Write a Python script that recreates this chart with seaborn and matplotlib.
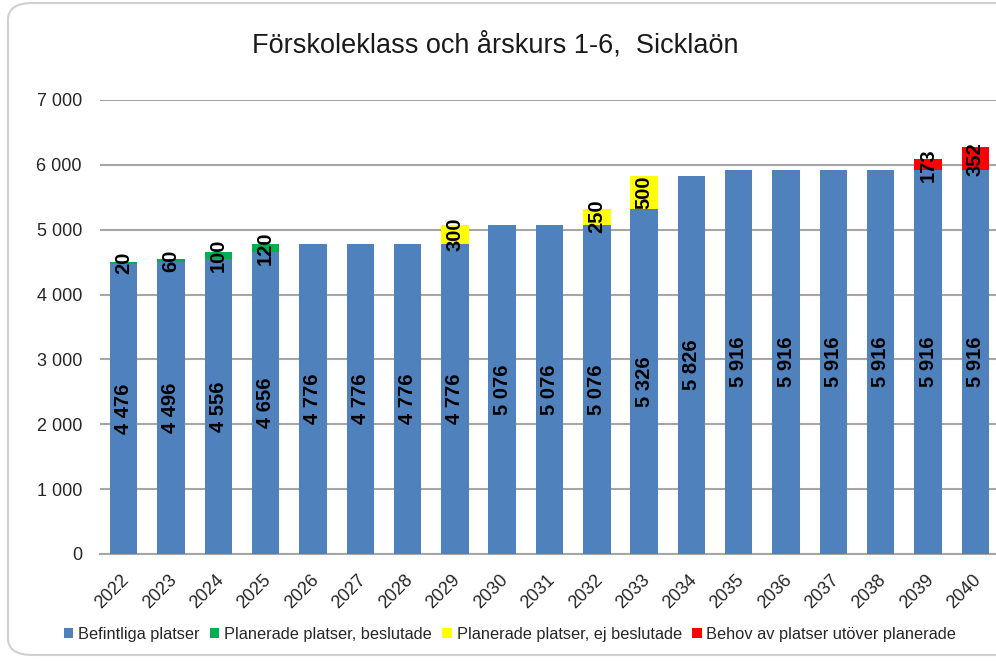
import matplotlib
matplotlib.use("Agg")
import matplotlib.pyplot as plt
import matplotlib.transforms as mtransforms
import seaborn as sns
import numpy as np
import pandas as pd
from matplotlib.patches import FancyBboxPatch, Patch
from matplotlib.ticker import FuncFormatter, MultipleLocator

years = [str(y) for y in range(2022, 2041)]
befintliga = [4476, 4496, 4556, 4656, 4776, 4776, 4776, 4776, 5076, 5076,
              5076, 5326, 5826, 5916, 5916, 5916, 5916, 5916, 5916]
beslutade = [20, 60, 100, 120, 0, 0, 0, 0, 0, 0,
             0, 0, 0, 0, 0, 0, 0, 0, 0]
ej_beslutade = [0, 0, 0, 0, 0, 0, 0, 300, 0, 0,
                250, 500, 0, 0, 0, 0, 0, 0, 0]
behov = [0, 0, 0, 0, 0, 0, 0, 0, 0, 0,
         0, 0, 0, 0, 0, 0, 0, 173, 352]

series_names = ["Befintliga platser", "Planerade platser, beslutade",
                "Planerade platser, ej beslutade", "Behov av platser utöver planerade"]
colors = ["#4F81BD", "#00B050", "#FFFF00", "#FF0000"]
title = "Förskoleklass och årskurs 1-6,  Sicklaön"

sns.set_theme(style="white")
plt.rcParams['font.family'] = ['Liberation Sans', 'DejaVu Sans']

df = pd.DataFrame({"year": years, "b": befintliga, "g": beslutade,
                   "y": ej_beslutade, "r": behov})
df["c1"] = df["b"]
df["c2"] = df["c1"] + df["g"]
df["c3"] = df["c2"] + df["y"]
df["c4"] = df["c3"] + df["r"]

fig = plt.figure(figsize=(9.96, 6.61), dpi=100)
border = FancyBboxPatch((8 / 996, 6 / 661), 1.2, 652 / 661,
                        boxstyle="round,pad=0,rounding_size=0.025",
                        transform=fig.transFigure, ec="#D0D0D0", fc="white",
                        lw=1.5, zorder=-10)
fig.patches.append(border)

ax = fig.add_axes([100 / 996, 1 - 554 / 661, 899 / 996, 454 / 661])
ax.set_facecolor("none")

W = 0.58
for col, c in zip(["c4", "c3", "c2", "c1"], colors[::-1]):
    sns.barplot(data=df, x="year", y=col, color=c, saturation=1, width=W,
                ax=ax, zorder=3, linewidth=0)

ax.set_ylim(0, 7000)
ax.set_xlim(-0.5, len(years) - 0.5)
ax.yaxis.set_major_locator(MultipleLocator(1000))
ax.yaxis.set_major_formatter(FuncFormatter(lambda v, p: f"{int(v):,}".replace(",", " ")))
ax.grid(axis="y", color="#A6A6A6", lw=1.5, zorder=0)
for s in ["top", "right", "left"]:
    ax.spines[s].set_visible(False)
ax.spines["bottom"].set_color("#A6A6A6")
ax.spines["bottom"].set_linewidth(1.5)
ax.set_xlabel("")
ax.set_ylabel("")
ax.tick_params(axis="y", length=0, pad=13, labelsize=13, labelcolor="#262626")
ax.tick_params(axis="x", length=0, pad=17, labelsize=13, labelcolor="#262626")
offset = mtransforms.ScaledTranslation(3 / 100, 0, fig.dpi_scale_trans)
for lab in ax.get_xticklabels():
    lab.set_rotation(45)
    lab.set_ha("right")
    lab.set_va("center")
    lab.set_rotation_mode("anchor")
    lab.set_transform(lab.get_transform() + offset)

def fmt(v):
    return f"{int(v):,}".replace(",", " ")

for i in range(len(years)):
    segs = [(0, befintliga[i]), (df["c1"][i], beslutade[i]),
            (df["c2"][i], ej_beslutade[i]), (df["c3"][i], behov[i])]
    for base, val in segs:
        if val > 0:
            ax.text(i, base + val / 2, fmt(val), rotation=90, ha="center",
                    va="center", fontsize=14.5, fontweight="bold",
                    color="black", zorder=5)

fig.text(0.4975, 1 - 45 / 661, title, ha="center", va="center",
         fontsize=19.5, color="#1a1a1a")

handles = [Patch(facecolor=c, edgecolor="none") for c in colors]
fig.legend(handles, series_names, loc="center", bbox_to_anchor=(0.512, 1 - 634 / 661),
           ncol=4, frameon=False, fontsize=11.8, handlelength=0.6, handleheight=0.6,
           handletextpad=0.3, columnspacing=0.6, labelcolor="#262626")

fig.savefig("out.png", dpi=100)
